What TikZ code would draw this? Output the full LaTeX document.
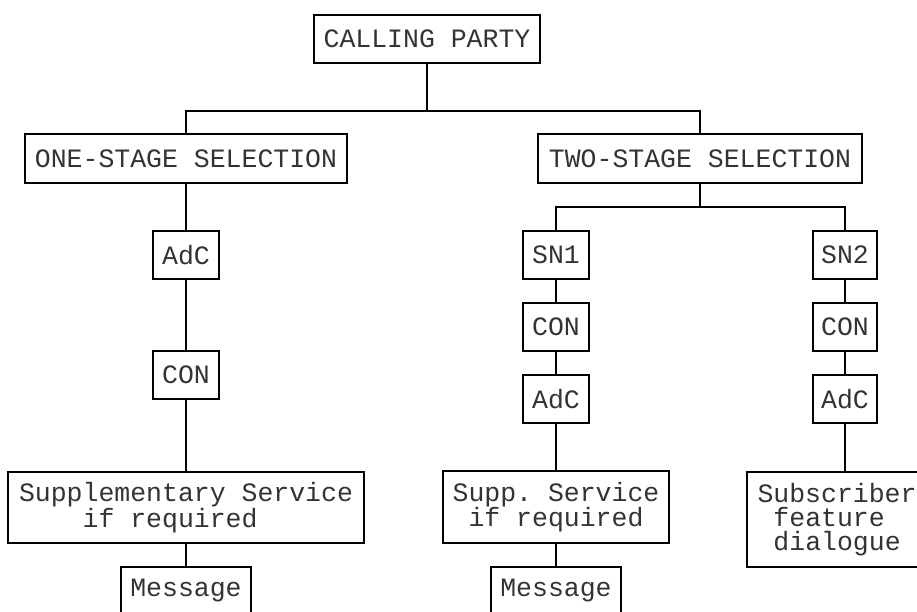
\documentclass[tikz,border=0pt]{standalone}
\usepackage{fontspec}
\setmonofont{Liberation Mono}
\begin{document}
\begin{tikzpicture}[x=1pt,y=-1pt,
  blk/.style={draw=black, line width=2pt, inner sep=0pt, align=left,
    text=black!80, font=\ttfamily\fontsize{26.5}{22}\selectfont,
    minimum height=48pt, minimum width=66pt},
  link/.style={line width=2pt}]
\useasboundingbox (0,0) rectangle (917,612);
\clip (0,0) rectangle (917,612);

% top level
\node[blk, minimum width=226pt] (cp) at (427,39) {CALLING PARTY};
\node[blk, minimum width=322pt, minimum height=49pt] (one) at (186,158.5) {ONE-STAGE SELECTION};
\node[blk, minimum width=324pt, minimum height=49pt] (two) at (700,158.5) {TWO-STAGE SELECTION};

% one-stage branch
\node[blk] (adc1) at (186,255) {AdC};
\node[blk] (con1) at (186,375) {CON};
\node[blk, minimum width=356pt, minimum height=71pt] (sup1) at (186,507.5)
  {Supplementary Service\\\hphantom{mmmm}if required};
\node[blk, minimum width=130pt] (msg1) at (186,591) {Message};

% two-stage, first number
\node[blk] (sn1) at (556,255) {SN1};
\node[blk] (con2) at (556,327) {CON};
\node[blk] (adc2) at (556,399) {AdC};
\node[blk, minimum width=226pt, minimum height=72pt] (sup2) at (556,507)
  {Supp. Service\\\hphantom{m}if required};
\node[blk, minimum width=130pt] (msg2) at (556,591) {Message};

% two-stage, second number
\node[blk, minimum width=64pt] (sn2) at (845,255) {SN2};
\node[blk, minimum width=64pt] (con3) at (845,327) {CON};
\node[blk, minimum width=64pt] (adc3) at (845,399) {AdC};
\node[blk, minimum width=196pt, minimum height=95pt,
      font=\ttfamily\fontsize{26.5}{24}\selectfont] (sub) at (845,519.5)
  {Subscriber\hphantom{m}\\\hphantom{m}feature\\\hphantom{m}dialogue};

% branching levels
\coordinate (lvl1) at (0,111);
\coordinate (lvl2) at (0,207);

% connectors
\draw[link] (cp.south) -- (cp.south |- lvl1);
\draw[link] (one.north) |- (lvl1 -| two.north) -- (two.north);
\draw[link] (two.south) -- (two.south |- lvl2);
\draw[link] (sn1.north) |- (lvl2 -| sn2.north) -- (sn2.north);
\draw[link] (one) -- (adc1) -- (con1) -- (sup1) -- (msg1);
\draw[link] (sn1) -- (con2) -- (adc2) -- (sup2) -- (msg2);
\draw[link] (sn2) -- (con3) -- (adc3) -- (sub);
\end{tikzpicture}
\end{document}
